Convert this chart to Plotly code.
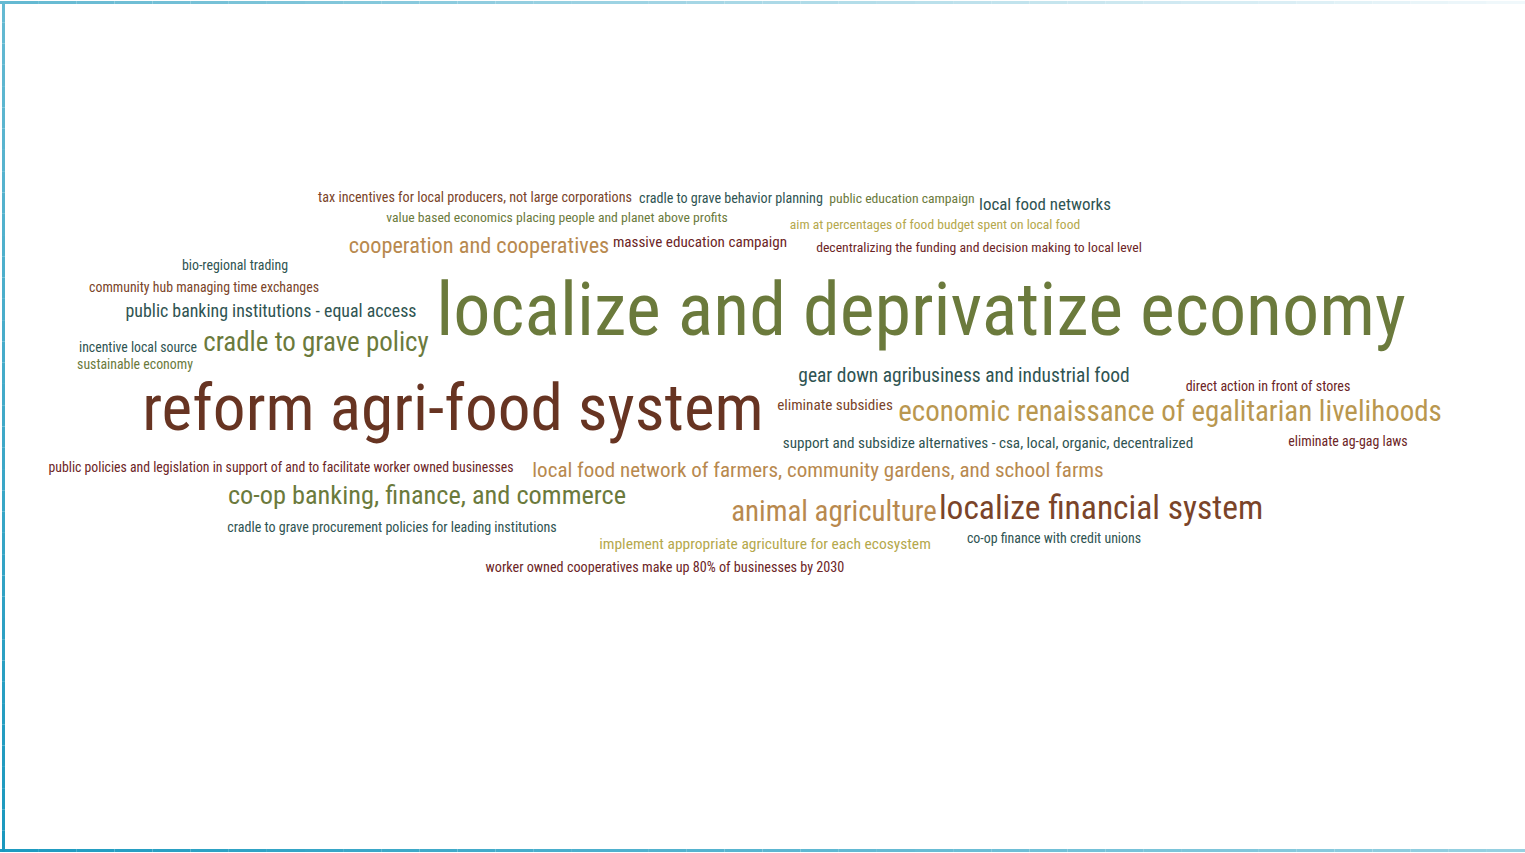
import plotly.graph_objects as go

# ---- data ----
phrases = [
    "localize and deprivatize economy",
    "reform agri-food system",
    "localize financial system",
    "animal agriculture",
    "economic renaissance of egalitarian livelihoods",
    "co-op banking, finance, and commerce",
    "cradle to grave policy",
    "cooperation and cooperatives",
    "local food network of farmers, community gardens, and school farms",
    "gear down agribusiness and industrial food",
    "public banking institutions - equal access",
    "local food networks",
    "tax incentives for local producers, not large corporations",
    "cradle to grave behavior planning",
    "public education campaign",
    "value based economics placing people and planet above profits",
    "aim at percentages of food budget spent on local food",
    "massive education campaign",
    "decentralizing the funding and decision making to local level",
    "bio-regional trading",
    "community hub managing time exchanges",
    "incentive local source",
    "sustainable economy",
    "direct action in front of stores",
    "eliminate subsidies",
    "support and subsidize alternatives - csa, local, organic, decentralized",
    "eliminate ag-gag laws",
    "public policies and legislation in support of and to facilitate worker owned businesses",
    "cradle to grave procurement policies for leading institutions",
    "implement appropriate agriculture for each ecosystem",
    "co-op finance with credit unions",
    "worker owned cooperatives make up 80% of businesses by 2030",
]
weights = [105, 92.5, 47.5, 41, 41, 37.3, 38.2, 31.6, 29.8, 27.6, 25.3, 24,
           20, 20, 19.4, 19.4, 19.2, 21.5, 19.4, 19.7, 19.6, 19.5, 19.6, 19.9,
           21.5, 21.5, 19.7, 19.5, 19.9, 22, 19.7, 20.1]
groups = ["olive", "rust", "brown", "tan", "gold", "olive", "olive", "tan",
          "tan", "teal", "teal", "teal", "brown", "teal", "olive", "olive",
          "khaki", "maroon", "maroon", "teal", "brown", "teal", "olive", "maroon",
          "brown", "teal", "maroon", "maroon", "teal", "khaki", "teal", "maroon"]

# word-cloud layout (centre of each phrase, in canvas units)
cx = [921, 453, 1101, 834, 1170, 427, 316, 479, 818, 964, 271, 1045,
      475, 731, 902, 557, 935, 700, 979, 235, 204, 138, 135, 1268,
      835, 988, 1348, 281, 392, 765, 1054, 665]
cy = [316, 414, 511, 514, 414, 497, 344, 247, 472, 377, 313, 206,
      198, 199, 200, 219, 226, 243, 249, 267, 289, 349, 366, 387,
      406, 444, 443, 469, 528, 545, 540, 568]

palette = {
    "olive": "#6b7a3c",
    "rust": "#673422",
    "brown": "#7a4429",
    "tan": "#b8894e",
    "gold": "#b9974f",
    "teal": "#2f5452",
    "khaki": "#b5a84c",
    "maroon": "#6c2526",
}

FONT = "Roboto Condensed, Roboto, Liberation Sans, sans-serif"
K = 0.706

fig = go.Figure()
for g, col in palette.items():
    idx = [i for i, gg in enumerate(groups) if gg == g]
    if not idx:
        continue
    fig.add_trace(go.Scatter(
        x=[cx[i] for i in idx],
        y=[cy[i] for i in idx],
        text=[phrases[i] for i in idx],
        mode="text",
        textposition="middle center",
        textfont=dict(family=FONT, color=col,
                      size=[weights[i] * K for i in idx]),
        hoverinfo="text",
        showlegend=False,
    ))

# frame (decorative border with fading blue)
def lerp(c1, c2, t):
    return "rgb(%d,%d,%d)" % tuple(round(a + (b - a) * t) for a, b in zip(c1, c2))

shapes = []
n = 40
W, H = 1525, 853
top_a, top_b = (100, 185, 210), (240, 248, 251)
bot_a, bot_b = (30, 155, 192), (150, 208, 225)
left_a, left_b = (100, 185, 210), (26, 152, 190)
for i in range(n):
    x0 = W * i / n
    x1 = W * (i + 1) / n
    t = i / (n - 1)
    shapes.append(dict(type="rect", xref="x", yref="y", x0=x0, x1=x1, y0=1, y1=4,
                       fillcolor=lerp(top_a, top_b, t), line=dict(width=0), layer="below"))
    shapes.append(dict(type="rect", xref="x", yref="y", x0=x0, x1=x1, y0=849, y1=852,
                       fillcolor=lerp(bot_a, bot_b, t), line=dict(width=0), layer="below"))
    shapes.append(dict(type="rect", xref="x", yref="y", x0=2, x1=5,
                       y0=1 + 851 * i / n, y1=1 + 851 * (i + 1) / n,
                       fillcolor=lerp(left_a, left_b, t), line=dict(width=0), layer="below"))

fig.update_layout(
    width=W, height=H,
    margin=dict(l=0, r=0, t=0, b=0),
    paper_bgcolor="white", plot_bgcolor="white",
    xaxis=dict(range=[0, W], visible=False, fixedrange=True),
    yaxis=dict(range=[H, 0], visible=False, fixedrange=True),
    shapes=shapes,
)
fig.write_html("out.html", config={"displayModeBar": False},
               post_script="document.body.style.margin='0';")
